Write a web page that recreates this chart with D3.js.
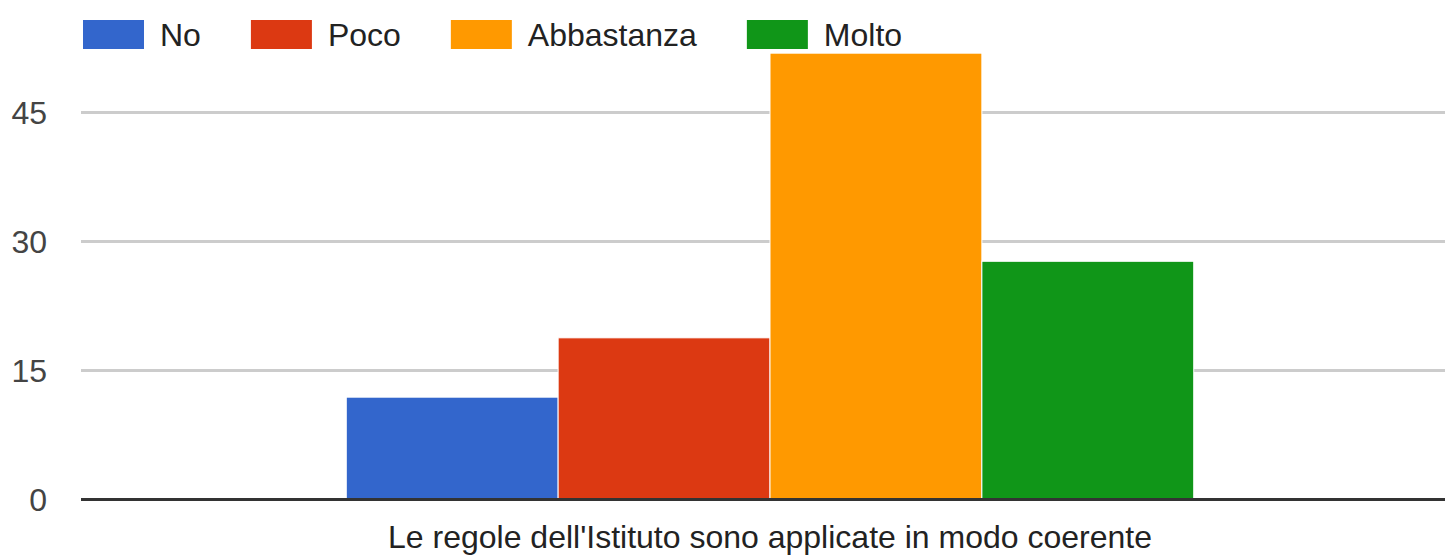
<!DOCTYPE html>
<html>
<head>
<meta charset="utf-8">
<script src="https://cdn.jsdelivr.net/npm/d3@7"></script>
<style>
  html, body { margin: 0; padding: 0; background: #fff; }
  text { font-family: Arial, "Liberation Sans", sans-serif; }
</style>
</head>
<body>
<div id="chart"></div>
<script>
// data
const categories = ["Le regole dell'Istituto sono applicate in modo coerente"];
const seriesNames = ["No", "Poco", "Abbastanza", "Molto"];
const seriesColors = ["#3366cc", "#dc3912", "#ff9900", "#109618"];
const seriesValues = [11.9, 18.8, 51.9, 27.7];
const yTicks = [0, 15, 30, 45];

const width = 1445, height = 556;
const plotLeft = 81, plotRight = 1459;

const svg = d3.select("#chart")
  .append("svg")
  .attr("width", width)
  .attr("height", height);

const y = d3.scaleLinear()
  .domain([0, 45])
  .range([499.5, 112.5]);

const x0 = d3.scaleBand()
  .domain(categories)
  .range([plotLeft, plotRight]);

const groupWidth = x0.bandwidth() * 0.615;

// gridlines
svg.append("g")
  .selectAll("line")
  .data(yTicks.filter(d => d !== 0))
  .enter().append("line")
  .attr("x1", plotLeft)
  .attr("x2", width)
  .attr("y1", d => y(d))
  .attr("y2", d => y(d))
  .attr("stroke", "#cccccc")
  .attr("stroke-width", 3);

// y labels
svg.append("g")
  .selectAll("text")
  .data(yTicks)
  .enter().append("text")
  .attr("x", 47)
  .attr("y", d => y(d) + 11)
  .attr("text-anchor", "end")
  .attr("font-size", "32px")
  .attr("fill", "#444444")
  .text(d => d);

// bars
categories.forEach((cat, ci) => {
  const center = x0(cat) + x0.bandwidth() / 2;
  const x1 = d3.scaleBand()
    .domain(seriesNames)
    .range([center - groupWidth / 2, center + groupWidth / 2]);

  svg.append("g")
    .selectAll("rect")
    .data(seriesNames.map((name, i) => ({ name, value: seriesValues[i], color: seriesColors[i] })))
    .enter().append("rect")
    .attr("x", d => x1(d.name))
    .attr("y", d => y(d.value))
    .attr("width", x1.bandwidth())
    .attr("height", d => y(0) - y(d.value))
    .attr("fill", d => d.color)
    .attr("stroke", "#ffffff")
    .attr("stroke-width", 1);

  svg.append("text")
    .attr("x", center)
    .attr("y", 548)
    .attr("text-anchor", "middle")
    .attr("font-size", "32px")
    .attr("fill", "#222222")
    .text(cat);
});

// baseline
svg.append("line")
  .attr("x1", plotLeft)
  .attr("x2", width)
  .attr("y1", y(0))
  .attr("y2", y(0))
  .attr("stroke", "#333333")
  .attr("stroke-width", 3);

// legend
const legend = svg.append("g");
let lx = 83;
seriesNames.forEach((name, i) => {
  legend.append("rect")
    .attr("x", lx)
    .attr("y", 20)
    .attr("width", 61)
    .attr("height", 29)
    .attr("fill", seriesColors[i]);
  const t = legend.append("text")
    .attr("x", lx + 77)
    .attr("y", 46)
    .attr("font-size", "32px")
    .attr("fill", "#222222")
    .text(name);
  lx += 77 + t.node().getComputedTextLength() + 50;
});
</script>
</body>
</html>
